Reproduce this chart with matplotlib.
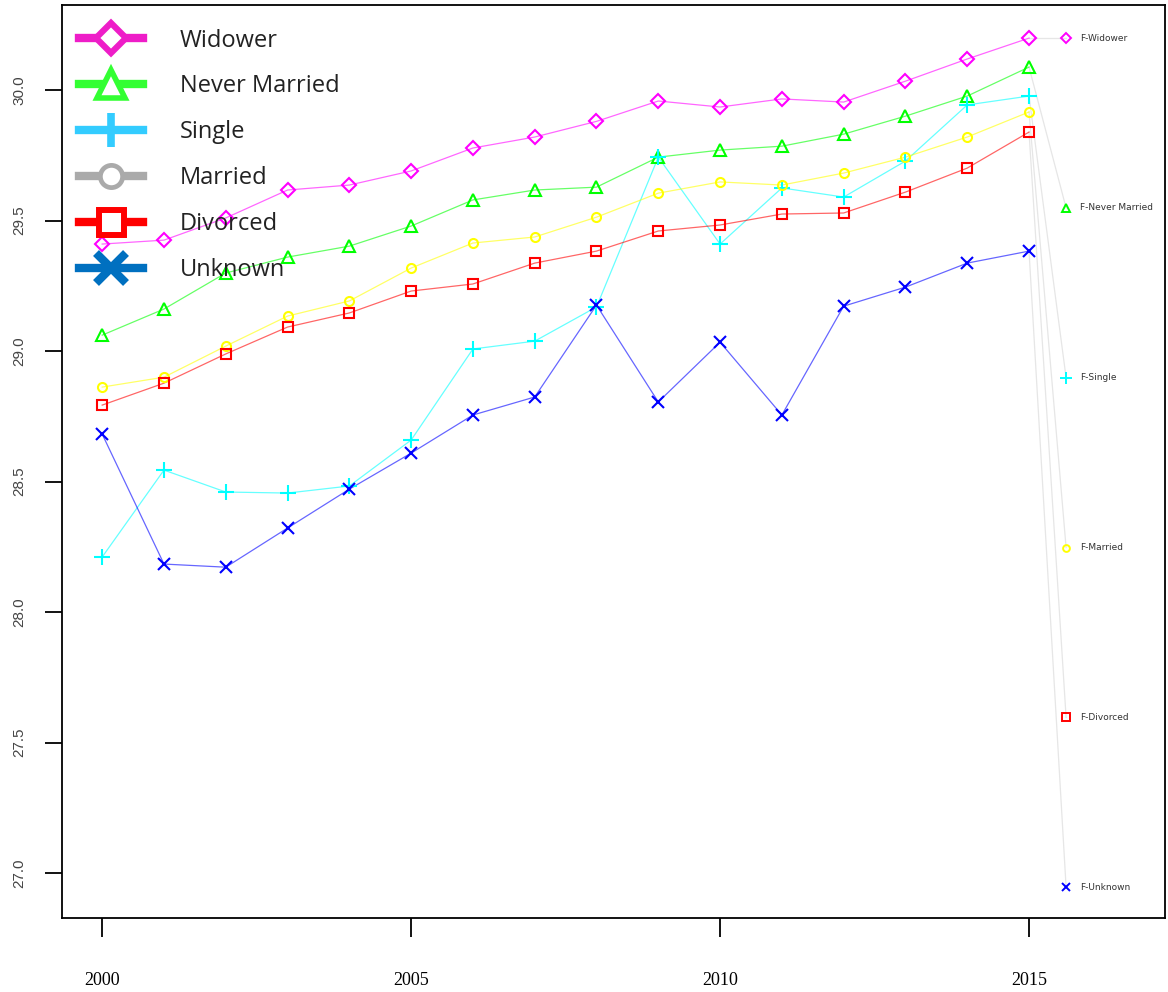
import numpy as np
import matplotlib
matplotlib.use("Agg")
import matplotlib.pyplot as plt
from matplotlib.lines import Line2D

years = list(range(2000, 2016))

widower = [29.41, 29.425, 29.51, 29.617, 29.636, 29.69, 29.778, 29.82,
           29.88, 29.958, 29.935, 29.966, 29.954, 30.034, 30.119, 30.199]
never_married = [29.061, 29.161, 29.299, 29.36, 29.402, 29.479, 29.579, 29.617,
                 29.628, 29.743, 29.77, 29.785, 29.831, 29.9, 29.977, 30.088]
single = [28.211, 28.544, 28.46, 28.456, 28.483, 28.659, 29.008, 29.038,
          29.169, 29.743, 29.41, 29.625, 29.59, 29.728, 29.943, 29.977]
married = [28.862, 28.90, 29.019, 29.134, 29.192, 29.318, 29.414, 29.437,
           29.513, 29.605, 29.648, 29.636, 29.682, 29.743, 29.82, 29.916]
divorced = [28.793, 28.877, 28.989, 29.092, 29.146, 29.23, 29.257, 29.337,
            29.383, 29.46, 29.483, 29.525, 29.529, 29.609, 29.701, 29.839]
unknown = [28.682, 28.184, 28.172, 28.322, 28.471, 28.609, 28.755, 28.824,
           29.176, 28.805, 29.034, 28.755, 29.172, 29.245, 29.337, 29.383]

series_names = ["Widower", "Never Married", "Single", "Married", "Divorced", "Unknown"]
series_values = [widower, never_married, single, married, divorced, unknown]
end_labels = ["F-Widower", "F-Never Married", "F-Single", "F-Married", "F-Divorced", "F-Unknown"]

x_ticks = [2000, 2005, 2010, 2015]
y_ticks = [27.0, 27.5, 28.0, 28.5, 29.0, 29.5, 30.0]

# styling for the plotted lines
line_colors = ["#FF00FF", "#00FF00", "#00FFFF", "#FFFF00", "#FF0000", "#0000FF"]
markers = ["D", "^", "+", "o", "s", "x"]
marker_sizes = [7, 8, 11, 6.5, 7, 8]

# styling for the legend entries
legend_colors = ["#EE1DC8", "#33FF33", "#33CCFF", "#AAAAAA", "#FF0000", "#0070C0"]
legend_marker_sizes = [15, 20, 25, 16, 18, 22]
legend_marker_widths = [4.5, 4.0, 5.5, 3.4, 4.3, 6.0]

fig = plt.figure(figsize=(11.68, 9.92), dpi=100)
ax = fig.add_axes([0.0531, 0.0746, 0.9443, 0.9204])

label_x = 2015.6
label_y = np.linspace(widower[-1], 26.946, len(series_names))

for vals, col, mk, ms, lab, ly in zip(series_values, line_colors, markers,
                                      marker_sizes, end_labels, label_y):
    # light connector from the final point to its end label
    ax.plot([years[-1], label_x], [vals[-1], ly], color="#E6E6E6", lw=0.9, zorder=1)
    ax.plot(years, vals, color=col, lw=0.9, alpha=0.6, zorder=2)
    ax.plot(years, vals, linestyle="none", marker=mk, markersize=ms,
            markerfacecolor="none", markeredgecolor=col, markeredgewidth=1.5, zorder=3)
    ax.plot([label_x], [ly], linestyle="none", marker=mk, markersize=ms * 0.75,
            markerfacecolor="none", markeredgecolor=col, markeredgewidth=1.4, zorder=3)
    ax.text(label_x + 0.22, ly, lab, fontsize=6.5, color="#333333",
            family="DejaVu Sans", va="center", ha="left")

ax.set_xlim(1999.35, 2017.2)
ax.set_ylim(26.828, 30.326)

ax.set_xticks(x_ticks)
ax.set_xticklabels([str(t) for t in x_ticks], family="Liberation Serif", fontsize=13)
ax.set_yticks(y_ticks)
ax.set_yticklabels([f"{t:.1f}" for t in y_ticks], family="Liberation Sans",
                   fontsize=11, color="#444444", rotation=90, va="center")
ax.tick_params(axis="x", length=14, width=1.3, pad=25, direction="out")
ax.tick_params(axis="y", length=12.5, width=1.3, pad=13, direction="out")
for s in ax.spines.values():
    s.set_linewidth(1.3)
    s.set_color("black")

handles = [
    Line2D([0], [0], color=c, lw=6, marker=m, markersize=s,
           markerfacecolor="white", markeredgecolor=c, markeredgewidth=w)
    for c, m, s, w in zip(legend_colors, markers, legend_marker_sizes, legend_marker_widths)
]
leg = ax.legend(handles, series_names, loc="upper left", bbox_to_anchor=(0.0, 0.9923),
                frameon=False, prop={"family": "Open Sans", "size": 17},
                handlelength=2.75, handletextpad=1.55, labelspacing=0.93,
                borderaxespad=0.3, borderpad=0.4)
for t in leg.get_texts():
    t.set_color("#222222")

fig.savefig("out.png", dpi=100, facecolor="white")
